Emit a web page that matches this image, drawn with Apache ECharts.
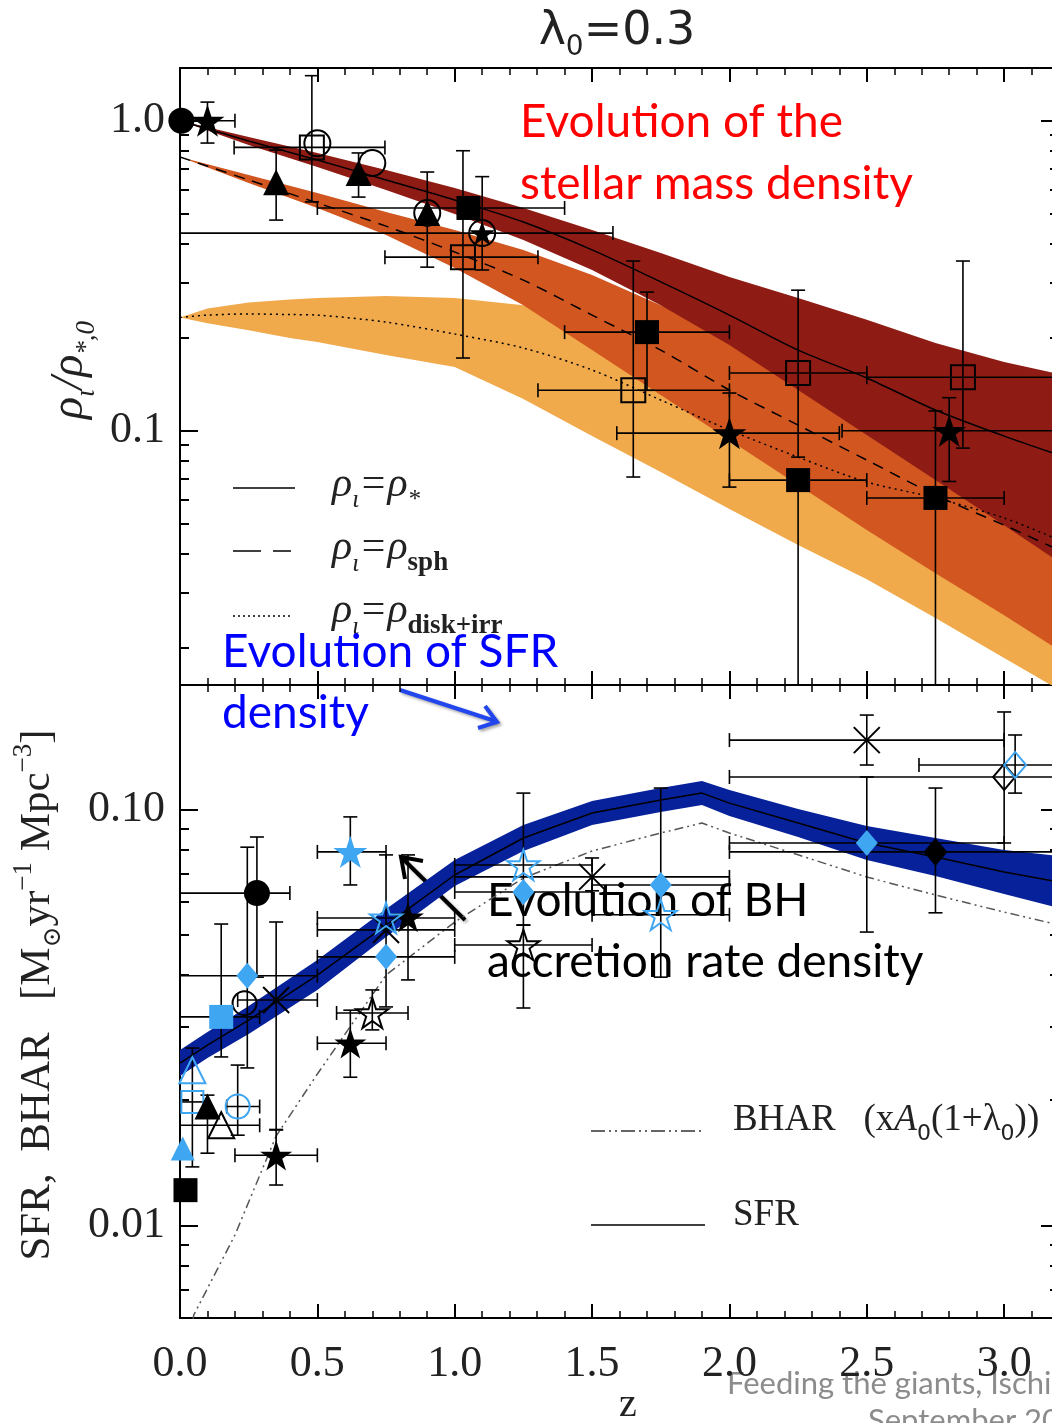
<!DOCTYPE html>
<html>
<head>
    <meta charset="utf-8">
    <title>lambda0 = 0.3</title>
    <script src="https://cdn.jsdelivr.net/npm/echarts@6/dist/echarts.min.js"></script>
    <style>
        html, body { margin: 0; padding: 0; background: #fff; }
        #main { width: 1052px; height: 1423px; }
    </style>
</head>
<body>
<div id="main"></div>
<script type="text/javascript">
// ---------- top panel: model bands (rho_i / rho_*,0) ----------
var zModel     = [0, 0.25, 0.5, 0.75, 1.0, 1.25, 1.5, 1.75, 2.0, 2.25, 2.5, 2.75, 3.0, 3.2];
var starUpper  = [1.0, 0.886, 0.787, 0.693, 0.607, 0.523, 0.444, 0.374, 0.313, 0.268, 0.228, 0.192, 0.1666, 0.1524];
var starMid    = [1.0, 0.860, 0.747, 0.644, 0.555, 0.471, 0.383, 0.302, 0.236, 0.182, 0.148, 0.1166, 0.0961, 0.0835];
var starLower  = [1.0, 0.835, 0.709, 0.598, 0.500, 0.412, 0.330, 0.254, 0.189, 0.1353, 0.0968, 0.0693, 0.0496, 0.0377];
var sphUpper   = [0.764, 0.668, 0.584, 0.508, 0.444, 0.383, 0.318, 0.254, 0.202, 0.146, 0.1166, 0.088, 0.0644, 0.0515];
var sphMid     = [0.764, 0.644, 0.543, 0.457, 0.377, 0.306, 0.236, 0.182, 0.1353, 0.1043, 0.0804, 0.062, 0.0496, 0.0412];
var sphLower   = [0.764, 0.630, 0.523, 0.428, 0.335, 0.254, 0.182, 0.1304, 0.0933, 0.0668, 0.0478, 0.0347, 0.0254, 0.0196];
var zDisk      = [0, 0.1, 0.25, 0.4, 0.5, 0.75, 1.0, 1.25, 1.5, 1.75, 2.0, 2.25, 2.5, 2.75, 3.0, 3.2];
var diskUpper  = [0.232, 0.248, 0.259, 0.265, 0.268, 0.272, 0.268, 0.254, 0.231, 0.202, 0.1755, 0.148, 0.1256, 0.1043, 0.0866, 0.0747];
var diskMid    = [0.232, 0.236, 0.238, 0.237, 0.236, 0.224, 0.205, 0.1848, 0.157, 0.1256, 0.1005, 0.0822, 0.0683, 0.0607, 0.0523, 0.0444];
var diskLower  = [0.232, 0.222, 0.211, 0.199, 0.1932, 0.1755, 0.1605, 0.1265, 0.0961, 0.0736, 0.0559, 0.0428, 0.0332, 0.0249, 0.0185, 0.0146];

// ---------- top panel: observations [z, value] ----------
var topFilledCircle   = [[0.005, 1.0]];
var topFilledStar     = [[0.1, 1.0], [2.0, 0.0982], [2.8, 0.100]];
var topFilledTriangle = [[0.35, 0.633], [0.65, 0.678], [0.9, 0.504]];
var topOpenSquare     = [[0.48, 0.82], [1.03, 0.363], [1.65, 0.135], [2.25, 0.1535], [2.85, 0.1488]];
var topOpenCircle     = [[0.5, 0.845], [0.7, 0.730], [0.9, 0.504], [1.1, 0.434]];
var topStarInCircle   = [[1.1, 0.434]];
var topFilledSquare   = [[1.05, 0.523], [1.70, 0.208], [2.25, 0.0693], [2.75, 0.0607]];
// [z, value, zLow, zHigh]
var topXErr = [
    [0.1, 1.0, 0.0, 0.2], [0.48, 0.82, 0.197, 0.746], [1.05, 0.523, 0.5, 1.40],
    [1.1, 0.434, 0.0, 1.576], [1.03, 0.363, 0.746, 1.303], [1.70, 0.208, 1.40, 2.0],
    [1.65, 0.135, 1.303, 2.0], [2.0, 0.0982, 1.59, 2.40], [2.25, 0.1535, 2.0, 2.5],
    [2.25, 0.0693, 2.0, 2.5], [2.8, 0.100, 2.41, 3.4], [2.85, 0.1488, 2.5, 3.4],
    [2.75, 0.0607, 2.5, 3.0]
];
// [z, value, valueLow, valueHigh]
var topYErr = [
    [0.1, 1.0, 0.847, 1.148], [0.35, 0.633, 0.478, 0.804], [0.48, 0.82, 0.547, 1.397],
    [0.65, 0.678, 0.567, 0.787], [0.9, 0.504, 0.337, 0.683], [1.03, 0.363, 0.1716, 0.800],
    [1.1, 0.434, 0.330, 0.660], [1.70, 0.208, 0.135, 0.280], [1.65, 0.135, 0.0709, 0.3527],
    [2.0, 0.0982, 0.0658, 0.1323], [2.25, 0.1535, 0.0822, 0.284], [2.25, 0.0693, 0.01, 0.0693],
    [2.8, 0.100, 0.0686, 0.1278], [2.85, 0.1488, 0.0879, 0.3527], [2.75, 0.0607, 0.01, 0.1158]
];

// ---------- bottom panel: SFR band and BHAR ----------
var zSfr     = [0, 0.1, 0.25, 0.5, 0.75, 1.0, 1.25, 1.5, 1.75, 1.9, 2.0, 2.25, 2.5, 2.75, 3.0, 3.2];
var sfrMid   = [0.02455, 0.02713, 0.03114, 0.03996, 0.05271, 0.06953, 0.08531, 0.09797, 0.1053, 0.1094, 0.1035, 0.09271, 0.08298, 0.0768, 0.07069, 0.06688];
var sfrUpper = [0.02639, 0.02915, 0.03366, 0.04342, 0.05758, 0.07554, 0.09169, 0.1047, 0.1125, 0.1169, 0.1113, 0.1002, 0.0912, 0.08531, 0.0798, 0.0772];
var sfrLower = [0.02285, 0.02525, 0.02884, 0.03677, 0.04932, 0.06541, 0.0794, 0.09169, 0.0985, 0.1024, 0.0964, 0.0858, 0.07554, 0.06913, 0.06258, 0.05789];
var zBhar    = [0.02, 0.05, 0.2, 0.35, 0.5, 0.75, 1.0, 1.25, 1.5, 1.75, 1.9, 2.0, 2.25, 2.5, 2.75, 3.0, 3.2];
var bhar     = [0.00449, 0.006086, 0.009478, 0.0164, 0.02311, 0.03996, 0.05359, 0.06837, 0.0794, 0.0877, 0.0927, 0.0877, 0.07774, 0.06876, 0.06223, 0.05663, 0.05271];

// ---------- bottom panel: observations [z, value] ----------
var botFilledCircle     = [[0.28, 0.0629]];
var botOpenCircle       = [[0.235, 0.0342]];
var botBlueOpenCircle   = [[0.21, 0.0193]];
var botBlueDiamond      = [[0.245, 0.0398], [0.75, 0.0442], [1.25, 0.0633], [1.75, 0.0658], [2.5, 0.083]];
var botBlueSquare       = [[0.15, 0.0317]];
var botBlueOpenSquare   = [[0.045, 0.0198]];
var botAsterisk         = [[0.35, 0.0348], [0.75, 0.0513], [1.5, 0.0688], [2.5, 0.1467]];
var botFilledStar       = [[0.35, 0.01474], [0.62, 0.0274], [0.83, 0.0551]];
var botOpenStar         = [[0.70, 0.0324], [1.25, 0.0472]];
var botBlueStar         = [[0.62, 0.079]];
var botBlueOpenStar     = [[0.75, 0.0548], [1.25, 0.0735], [1.75, 0.0558]];
var botBlueOpenTriangle = [[0.045, 0.0236]];
var botBlueTriangle     = [[0.01, 0.0153]];
var botFilledTriangle   = [[0.1, 0.0193]];
var botOpenTriangle     = [[0.15, 0.0174]];
var botFilledSquare     = [[0.02, 0.01215]];
var botFilledDiamond    = [[2.75, 0.079]];
var botOpenDiamond      = [[3.0, 0.1196]];
var botBlueOpenDiamond  = [[3.04, 0.1278]];
var botXErr = [
    [0.28, 0.0629, 0.0, 0.40], [0.245, 0.0398, 0.0, 0.5], [0.15, 0.0317, 0.0, 0.29],
    [0.35, 0.0348, 0.21, 0.5], [0.35, 0.01474, 0.2, 0.5], [0.15, 0.0174, 0.0, 0.29],
    [0.21, 0.0193, 0.17, 0.29], [0.045, 0.0198, 0.0, 0.1], [0.62, 0.079, 0.5, 0.75],
    [0.75, 0.0548, 0.5, 1.0], [0.75, 0.0513, 0.5, 1.0], [0.75, 0.0442, 0.5, 1.0],
    [0.70, 0.0324, 0.57, 0.83], [0.62, 0.0274, 0.5, 0.75], [1.25, 0.0735, 1.0, 1.5],
    [1.5, 0.0688, 1.0, 2.0], [1.25, 0.0633, 1.0, 1.5], [1.25, 0.0472, 1.0, 1.5],
    [1.75, 0.0658, 1.5, 2.0], [1.75, 0.0558, 1.5, 2.0], [2.5, 0.1467, 2.0, 3.0],
    [2.5, 0.083, 2.0, 3.0], [2.75, 0.079, 2.0, 3.4], [3.0, 0.1196, 2.0, 3.4],
    [3.04, 0.1278, 2.69, 3.4]
];
var botYErr = [
    [0.28, 0.0629, 0.0395, 0.0858], [0.245, 0.0398, 0.0239, 0.0811], [0.15, 0.0317, 0.0254, 0.0530],
    [0.35, 0.0348, 0.01695, 0.0536], [0.35, 0.01474, 0.0125, 0.0170], [0.045, 0.0236, 0.01382, 0.02668],
    [0.1, 0.0193, 0.01491, 0.02056], [0.21, 0.0193, 0.01647, 0.02428], [0.62, 0.079, 0.0658, 0.0959],
    [0.75, 0.0513, 0.0335, 0.0777], [0.83, 0.0551, 0.0389, 0.0777], [0.70, 0.0324, 0.0295, 0.0368],
    [0.62, 0.0274, 0.0227, 0.0329], [1.25, 0.0735, 0.0527, 0.1094], [1.25, 0.0472, 0.0333, 0.0527],
    [1.5, 0.0688, 0.0637, 0.0764], [1.75, 0.0658, 0.0395, 0.1125], [2.5, 0.1467, 0.1278, 0.1685],
    [2.5, 0.083, 0.0507, 0.1196], [2.75, 0.079, 0.0564, 0.1125], [3.0, 0.1196, 0.083, 0.1714],
    [3.04, 0.1278, 0.1094, 0.1509]
];

// ---------- ticks ----------
var xTickLabels    = ['0.0', '0.5', '1.0', '1.5', '2.0', '2.5', '3.0'];
var topMajorTicks  = [0.1, 1];
var topTickLabels  = ['0.1', '1.0'];
var topMinorTicks  = [0.02, 0.03, 0.04, 0.05, 0.06, 0.07, 0.08, 0.09, 0.2, 0.3, 0.4, 0.5, 0.6, 0.7, 0.8, 0.9];
var botMajorTicks  = [0.01, 0.1];
var botTickLabels  = ['0.01', '0.10'];
var botMinorTicks  = [0.007, 0.008, 0.009, 0.02, 0.03, 0.04, 0.05, 0.06, 0.07, 0.08, 0.09];

var BLUE = '#3FA6F2';
var STAR = 'path://M50,0L61.2,34.5L97.6,34.5L68.2,55.9L79.4,90.5L50,69.1L20.6,90.5L31.8,55.9L2.4,34.5L38.8,34.5Z';
var CROSS = 'path://M0,0L100,100M100,0L0,100';
var SERIF = 'Liberation Serif';

function xAx(grid, pos, showLabel) {
    return {
        type: 'value', gridIndex: grid, position: pos, min: 0, max: 3.5, interval: 0.5,
        axisLine: { show: true, onZero: false, lineStyle: { color: '#000', width: 2 } },
        axisTick: { show: true, inside: true, length: 14, lineStyle: { color: '#000', width: 2 } },
        minorTick: { show: true, splitNumber: 5, length: 7, lineStyle: { color: '#000', width: 1.5 } },
        axisLabel: {
            show: showLabel, margin: 24, fontFamily: SERIF, fontSize: 44, color: '#222',
            formatter: function (v) { return xTickLabels[Math.round(v / 0.5)] || ''; }
        },
        splitLine: { show: false }
    };
}

function yAx(grid, pos, min, max, ticks, len, labels, offset) {
    return {
        type: 'log', logBase: 10, gridIndex: grid, position: pos, offset: offset || 0, min: min, max: max,
        axisLine: { show: true, onZero: false, lineStyle: { color: '#000', width: 2 } },
        axisTick: { show: true, inside: true, length: len, customValues: ticks, lineStyle: { color: '#000', width: 2 } },
        axisLabel: {
            show: !!labels, customValues: ticks, margin: 15, fontFamily: SERIF, fontSize: 44, color: '#222',
            formatter: function (v) {
                for (var i = 0; i < ticks.length; i++) {
                    if (Math.abs(v - ticks[i]) < 1e-9) return labels ? labels[i] : '';
                }
                return '';
            }
        },
        splitLine: { show: false },
        minorTick: { show: false }
    };
}

function bandSeries(zs, hi, lo, color, xi, yi) {
    return {
        type: 'custom', xAxisIndex: xi, yAxisIndex: yi, clip: true, silent: true, z: 1,
        data: [[zs[0], hi[0]]],
        renderItem: function (params, api) {
            var pts = [];
            for (var i = 0; i < zs.length; i++) pts.push(api.coord([zs[i], hi[i]]));
            for (var j = zs.length - 1; j >= 0; j--) pts.push(api.coord([zs[j], lo[j]]));
            return { type: 'polygon', shape: { points: pts }, style: { fill: color } };
        }
    };
}

function errSeries(rows, horizontal, xi, yi) {
    return {
        type: 'custom', xAxisIndex: xi, yAxisIndex: yi, clip: true, silent: true, z: 3,
        data: rows,
        renderItem: function (params, api) {
            var cs = params.coordSys;
            var x = api.value(0), y = api.value(1), a = api.value(2), b = api.value(3);
            var p1 = horizontal ? api.coord([a, y]) : api.coord([x, a]);
            var p2 = horizontal ? api.coord([b, y]) : api.coord([x, b]);
            var st = { stroke: '#000', lineWidth: 1.6 };
            var kids = [{ type: 'line', shape: { x1: p1[0], y1: p1[1], x2: p2[0], y2: p2[1] }, style: st }];
            [p1, p2].forEach(function (p) {
                var inside = p[0] > cs.x + 1 && p[0] < cs.x + cs.width - 1 &&
                             p[1] > cs.y + 1 && p[1] < cs.y + cs.height - 1;
                if (!inside) return;
                kids.push(horizontal
                    ? { type: 'line', shape: { x1: p[0], y1: p[1] - 7, x2: p[0], y2: p[1] + 7 }, style: st }
                    : { type: 'line', shape: { x1: p[0] - 7, y1: p[1], x2: p[0] + 7, y2: p[1] }, style: st });
            });
            return { type: 'group', children: kids };
        }
    };
}

function curve(zs, vs, dash, color, width, xi, yi, smooth) {
    return {
        type: 'line', xAxisIndex: xi, yAxisIndex: yi, silent: true, z: 2,
        data: zs.map(function (z, i) { return [z, vs[i]]; }),
        showSymbol: false, symbol: 'none', smooth: smooth,
        lineStyle: { color: color, width: width, type: dash }
    };
}

function marks(data, symbol, size, fill, stroke, xi, yi) {
    return {
        type: 'scatter', xAxisIndex: xi, yAxisIndex: yi, silent: true, z: 4,
        data: data, symbol: symbol, symbolSize: size, symbolKeepAspect: true,
        itemStyle: { color: fill, borderColor: stroke || fill, borderWidth: stroke ? 2 : 0, opacity: 1 }
    };
}

var NONE = 'rgba(0,0,0,0)';

var chart = echarts.init(document.getElementById('main'));

var option = {
    animation: false,
    backgroundColor: '#fff',
    grid: [
        { left: 180, top: 68, width: 961.5, height: 617, outerBoundsMode: 'none', containLabel: false },
        { left: 180, top: 685, width: 961.5, height: 633, outerBoundsMode: 'none', containLabel: false }
    ],
    xAxis: [xAx(0, 'bottom', false), xAx(0, 'top', false), xAx(1, 'bottom', true), xAx(1, 'top', false)],
    yAxis: [
        yAx(0, 'left', 0.01513, 1.479, topMajorTicks, 18, topTickLabels),
        yAx(0, 'left', 0.01513, 1.479, topMinorTicks, 9, null),
        yAx(0, 'right', 0.01513, 1.479, topMajorTicks, 18, null, -82.5),
        yAx(0, 'right', 0.01513, 1.479, topMinorTicks, 9, null, -82.5),
        yAx(1, 'left', 0.005988, 0.199, botMajorTicks, 18, botTickLabels),
        yAx(1, 'left', 0.005988, 0.199, botMinorTicks, 9, null),
        yAx(1, 'right', 0.005988, 0.199, botMajorTicks, 18, null, -82.5),
        yAx(1, 'right', 0.005988, 0.199, botMinorTicks, 9, null, -82.5)
    ],
    series: [
        // top panel bands, light to dark
        bandSeries(zDisk, diskUpper, diskLower, '#F0A94B', 0, 0),
        bandSeries(zModel, sphUpper, sphLower, '#D1561F', 0, 0),
        bandSeries(zModel, starUpper, starLower, '#8F1C14', 0, 0),
        curve(zModel, starMid, 'solid', '#000', 1.5, 0, 0, 0.3),
        curve(zModel, sphMid, [11, 8], '#000', 1.5, 0, 0, 0.3),
        curve(zDisk, diskMid, [2, 4], '#000', 1.5, 0, 0, 0.3),
        errSeries(topXErr, true, 0, 0),
        errSeries(topYErr, false, 0, 0),
        marks(topFilledCircle, 'circle', 26, '#000', null, 0, 0),
        marks(topFilledStar, STAR, 34, '#000', null, 0, 0),
        marks(topFilledTriangle, 'triangle', 26, '#000', null, 0, 0),
        marks(topOpenSquare, 'rect', 24, NONE, '#000', 0, 0),
        marks(topOpenCircle, 'circle', 26, NONE, '#000', 0, 0),
        marks(topStarInCircle, STAR, 26, '#000', null, 0, 0),
        marks(topFilledSquare, 'rect', 24, '#000', null, 0, 0),

        // bottom panel
        bandSeries(zSfr, sfrUpper, sfrLower, '#06219A', 2, 4),
        curve(zSfr, sfrMid, 'solid', '#000', 1.5, 2, 4, false),
        curve(zBhar, bhar, [9, 4, 2, 4, 2, 4], '#555', 1.5, 2, 4, false),
        errSeries(botXErr, true, 2, 4),
        errSeries(botYErr, false, 2, 4),
        marks(botFilledCircle, 'circle', 26, '#000', null, 2, 4),
        marks(botOpenCircle, 'circle', 24, NONE, '#000', 2, 4),
        marks(botBlueOpenCircle, 'circle', 24, NONE, BLUE, 2, 4),
        marks(botBlueDiamond, 'diamond', [22, 26], BLUE, null, 2, 4),
        marks(botBlueSquare, 'rect', 24, BLUE, null, 2, 4),
        marks(botBlueOpenSquare, 'rect', 22, NONE, BLUE, 2, 4),
        marks(botAsterisk, CROSS, 26, NONE, '#000', 2, 4),
        marks(botFilledStar, STAR, 32, '#000', null, 2, 4),
        marks(botOpenStar, STAR, 32, NONE, '#000', 2, 4),
        marks(botBlueStar, STAR, 34, BLUE, null, 2, 4),
        marks(botBlueOpenStar, STAR, 32, NONE, BLUE, 2, 4),
        marks(botBlueOpenTriangle, 'triangle', 26, NONE, BLUE, 2, 4),
        marks(botBlueTriangle, 'triangle', 24, BLUE, null, 2, 4),
        marks(botFilledTriangle, 'triangle', 26, '#000', null, 2, 4),
        marks(botOpenTriangle, 'triangle', 26, NONE, '#000', 2, 4),
        marks(botFilledSquare, 'rect', 24, '#000', null, 2, 4),
        marks(botFilledDiamond, 'diamond', [24, 28], '#000', null, 2, 4),
        marks(botOpenDiamond, 'diamond', [22, 26], NONE, '#000', 2, 4),
        marks(botBlueOpenDiamond, 'diamond', [22, 26], NONE, BLUE, 2, 4)
    ],
    graphic: [
        // title
        { type: 'text', x: 617, y: 32, style: {
            text: 'λ{s|0}=0.3', font: '46px "DejaVu Sans"', fill: '#222', align: 'center', verticalAlign: 'middle',
            rich: { s: { fontSize: 28, fontFamily: 'DejaVu Sans', verticalAlign: 'bottom', lineHeight: 60, fill: '#222' } } } },
        // y axis names
        { type: 'text', x: 70, y: 370, rotation: Math.PI / 2, style: {
            text: 'ρ{s|ι}/ρ{s|*,0}', font: 'italic 46px "Liberation Serif"', fill: '#222', align: 'center', verticalAlign: 'middle',
            rich: { s: { fontSize: 27, fontStyle: 'italic', fontFamily: 'Liberation Serif', verticalAlign: 'bottom', lineHeight: 60, fill: '#222' } } } },
        { type: 'text', x: 38, y: 995, rotation: Math.PI / 2, style: {
            text: 'SFR,  BHAR   [M{s|⊙}yr{p|−1} Mpc{p|−3}]', font: '43px "Liberation Serif"', fill: '#222', align: 'center', verticalAlign: 'middle',
            rich: {
                s: { fontSize: 25, fontFamily: 'DejaVu Serif', verticalAlign: 'bottom', lineHeight: 56, fill: '#222' },
                p: { fontSize: 27, fontFamily: 'Liberation Serif', verticalAlign: 'top', lineHeight: 56, fill: '#222' }
            } } },
        { type: 'text', x: 628, y: 1405, style: { text: 'z', font: '40px "Liberation Serif"', fill: '#222', align: 'center', verticalAlign: 'middle' } },

        // top legend
        { type: 'line', shape: { x1: 233, y1: 488, x2: 295, y2: 488 }, style: { stroke: '#000', lineWidth: 1.5 } },
        { type: 'line', shape: { x1: 233, y1: 551, x2: 291, y2: 551 }, style: { stroke: '#000', lineWidth: 1.5, lineDash: [28, 12] } },
        { type: 'line', shape: { x1: 233, y1: 616, x2: 292, y2: 616 }, style: { stroke: '#000', lineWidth: 1.5, lineDash: [2, 3] } },
        { type: 'text', x: 332, y: 485, style: {
            text: 'ρ{s|ι}=ρ{s|*}', font: 'italic 42px "Liberation Serif"', fill: '#222', verticalAlign: 'middle',
            rich: { s: { fontSize: 25, fontStyle: 'italic', fontFamily: 'Liberation Serif', verticalAlign: 'bottom', lineHeight: 56, fill: '#222' } } } },
        { type: 'text', x: 332, y: 548, style: {
            text: 'ρ{s|ι}=ρ{b|sph}', font: 'italic 42px "Liberation Serif"', fill: '#222', verticalAlign: 'middle',
            rich: {
                s: { fontSize: 25, fontStyle: 'italic', fontFamily: 'Liberation Serif', verticalAlign: 'bottom', lineHeight: 56, fill: '#222' },
                b: { fontSize: 27, fontWeight: 'bold', fontFamily: 'Liberation Serif', verticalAlign: 'bottom', lineHeight: 58, fill: '#222' }
            } } },
        { type: 'text', x: 332, y: 611, style: {
            text: 'ρ{s|ι}=ρ{b|disk+irr}', font: 'italic 42px "Liberation Serif"', fill: '#222', verticalAlign: 'middle',
            rich: {
                s: { fontSize: 25, fontStyle: 'italic', fontFamily: 'Liberation Serif', verticalAlign: 'bottom', lineHeight: 56, fill: '#222' },
                b: { fontSize: 27, fontWeight: 'bold', fontFamily: 'Liberation Serif', verticalAlign: 'bottom', lineHeight: 58, fill: '#222' }
            } } },

        // bottom legend
        { type: 'line', shape: { x1: 591, y1: 1131, x2: 701, y2: 1131 }, style: { stroke: '#333', lineWidth: 1.5, lineDash: [14, 4, 2, 4, 2, 4] } },
        { type: 'line', shape: { x1: 591, y1: 1225, x2: 705, y2: 1225 }, style: { stroke: '#000', lineWidth: 1.5 } },
        { type: 'text', x: 733, y: 1120, style: {
            text: 'BHAR   (x{a|A}{s|0}(1+λ{s|0}))', font: '37px "Liberation Serif"', fill: '#222', verticalAlign: 'middle',
            rich: {
                a: { fontSize: 37, fontStyle: 'italic', fontFamily: 'Liberation Serif', fill: '#222' },
                s: { fontSize: 22, fontFamily: 'DejaVu Sans', verticalAlign: 'bottom', lineHeight: 50, fill: '#222' }
            } } },
        { type: 'text', x: 733, y: 1215, style: { text: 'SFR', font: '37px "Liberation Serif"', fill: '#222', verticalAlign: 'middle' } },

        // annotations
        { type: 'text', x: 520, y: 122, style: { text: 'Evolution of the', font: '46px Lato', fill: '#FF0000', verticalAlign: 'middle' } },
        { type: 'text', x: 520, y: 184, style: { text: 'stellar mass density', font: '46px Lato', fill: '#FF0000', verticalAlign: 'middle' } },
        { type: 'text', x: 222, y: 652, style: { text: 'Evolution of SFR', font: '46px Lato', fill: '#0000FF', verticalAlign: 'middle' } },
        { type: 'text', x: 222, y: 713, style: { text: 'density', font: '46px Lato', fill: '#0000FF', verticalAlign: 'middle' } },
        { type: 'text', x: 487, y: 901, style: { text: 'Evolution of BH', font: '46px Lato', fill: '#000', verticalAlign: 'middle' } },
        { type: 'text', x: 487, y: 962, style: { text: 'accretion rate density', font: '46px Lato', fill: '#000', verticalAlign: 'middle' } },
        { type: 'line', shape: { x1: 400, y1: 690, x2: 495, y2: 721 }, style: { stroke: '#2246EE', lineWidth: 4, shadowBlur: 3, shadowColor: 'rgba(0,0,0,0.35)', shadowOffsetX: 2, shadowOffsetY: 2 } },
        { type: 'polyline', shape: { points: [[485, 706], [497, 722], [478, 728]] }, style: { stroke: '#2246EE', lineWidth: 4, fill: null, shadowBlur: 3, shadowColor: 'rgba(0,0,0,0.35)', shadowOffsetX: 2, shadowOffsetY: 2 } },
        { type: 'line', shape: { x1: 465, y1: 920, x2: 403, y2: 859 }, style: { stroke: '#000', lineWidth: 4, shadowBlur: 3, shadowColor: 'rgba(0,0,0,0.3)', shadowOffsetX: 2, shadowOffsetY: 2 } },
        { type: 'polyline', shape: { points: [[405, 879], [401, 857], [423, 861]] }, style: { stroke: '#000', lineWidth: 4, fill: null } },

        // footer
        { type: 'text', x: 727, y: 1384, style: { text: 'Feeding the giants, Ischia', font: '31px Lato', fill: '#8C8C8C', verticalAlign: 'middle' } },
        { type: 'text', x: 868, y: 1421, style: { text: 'September 2011', font: '31px Lato', fill: '#8C8C8C', verticalAlign: 'middle' } }
    ]
};

chart.setOption(option);
</script>
</body>
</html>
